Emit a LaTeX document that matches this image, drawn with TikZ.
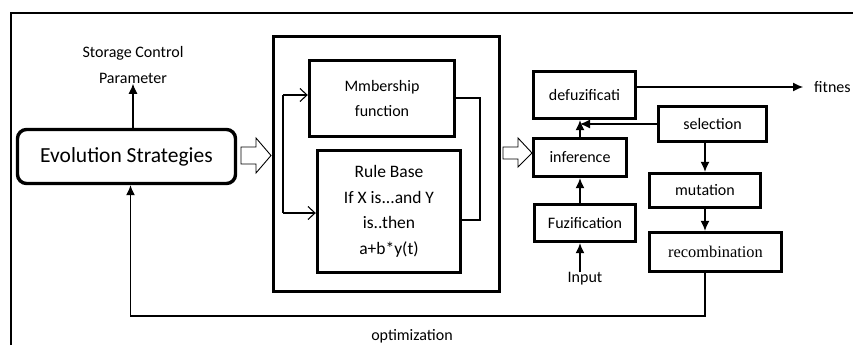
\documentclass[tikz,border=0pt]{standalone}
\usepackage{fontspec}
\setmainfont{Carlito}
\newfontfamily\recfont{Liberation Serif}
\usetikzlibrary{arrows.meta,calc}
\begin{document}
\begin{tikzpicture}[x=1pt,y=-1pt,
  box/.style={draw, line width=3.4pt, inner sep=0pt, align=center, font=\fontsize{16}{25}\selectfont},
  thinl/.style={line width=1.1pt},
  tip/.style={-{Latex[length=10pt,width=9pt]}},
  otip/.style={-{Straight Barb[length=7pt,width=13pt]}},
  lbl/.style={inner sep=0pt, align=center, font=\fontsize{16}{26}\selectfont},
  hollow/.style={draw, line width=0.9pt, fill=white}]
\useasboundingbox (0,0) rectangle (853,345);
% frame
\draw[line width=1.6pt] (11,345) -- (11,13) -- (853,13);
% left part
\node[box, rounded corners=9pt, minimum width=218pt, minimum height=54pt, font=\fontsize{21.5}{25}\selectfont] (evo) at (126.5,156.5) {Evolution Strategies};
\node[lbl] (stor) at (133,65) {Storage Control\\Parameter};
\draw[thinl,tip] (stor.south |- evo.north) -- (stor.south);
% big box
\node[box, minimum width=226pt, minimum height=255pt] (big) at (386.5,164) {};
\node[box, minimum width=145pt, minimum height=76pt] (memb) at (382,98.5) {Mmbership\\function};
\node[box, minimum width=143pt, minimum height=122pt, font=\fontsize{17.5}{25.5}\selectfont] (rule) at (389,211.5) {Rule Base\\If X is...and Y\\is..then\\a+b*y(t)};
% hollow arrows
\draw[hollow] (241,147) -- (256,147) -- (256,138) -- (271,155.5) -- (256,173) -- (256,164) -- (241,164) -- cycle;
\draw[hollow] (503,147) -- (518,147) -- (518,138) -- (532,153) -- (518,167) -- (518,159) -- (503,159) -- cycle;
% brackets
\coordinate (bt) at (283,95);
\coordinate (bb) at (283,213);
\draw[thinl] (bt) -- (bb);
\draw[thinl,otip] (bt) -- (memb.west |- bt);
\draw[thinl,otip] (bb) -- (rule.west |- bb);
\coordinate (rb) at (480,98);
\coordinate (rb2) at (480,220);
\draw[thinl] (memb.east |- rb) -- (rb) -- (rb2) -- (rule.east |- rb2);
% right part
\node[box, minimum width=102pt, minimum height=47pt] (defuz) at (584.5,95) {defuzificati};
\node[box, minimum width=93pt, minimum height=38pt] (infer) at (580,157.5) {inference};
\node[box, minimum width=101pt, minimum height=37pt] (fuzz) at (585,223) {Fuzification};
\node[box, minimum width=108pt, minimum height=35pt] (sel) at (712.5,124) {selection};
\node[box, minimum width=111pt, minimum height=34pt] (mut) at (705,190.5) {mutation};
\node[box, minimum width=132pt, minimum height=39pt, font=\recfont\fontsize{16.4}{20}\selectfont] (rec) at (715.5,252) {recombination};
\node[lbl] (inp) at (585,279) {Input};
\node[lbl, anchor=west] (fit) at (814,87) {fitnes};
\node[lbl] (opt) at (412,336) {optimization};
\draw[thinl,tip] (infer.north) -- (infer.north |- defuz.south);
\draw[thinl,tip] (sel.west) -- (sel.west -| infer.north);
\draw[thinl,tip] (infer.south |- fuzz.north) -- (infer.south);
\draw[thinl,tip] (inp.north -| infer.south) -- (infer.south |- fuzz.south);
\draw[thinl,tip] (sel.south -| mut.north) -- (mut.north);
\draw[thinl,tip] (mut.south) -- (mut.south |- rec.north);
\draw[thinl,tip] (defuz.east |- fit.west) -- ([xshift=-11pt]fit.west);
\coordinate (fb) at (705,316);
\draw[thinl,tip] (mut.south |- rec.south) -- (fb) -| ([xshift=4pt]evo.south);
\end{tikzpicture}
\end{document}
